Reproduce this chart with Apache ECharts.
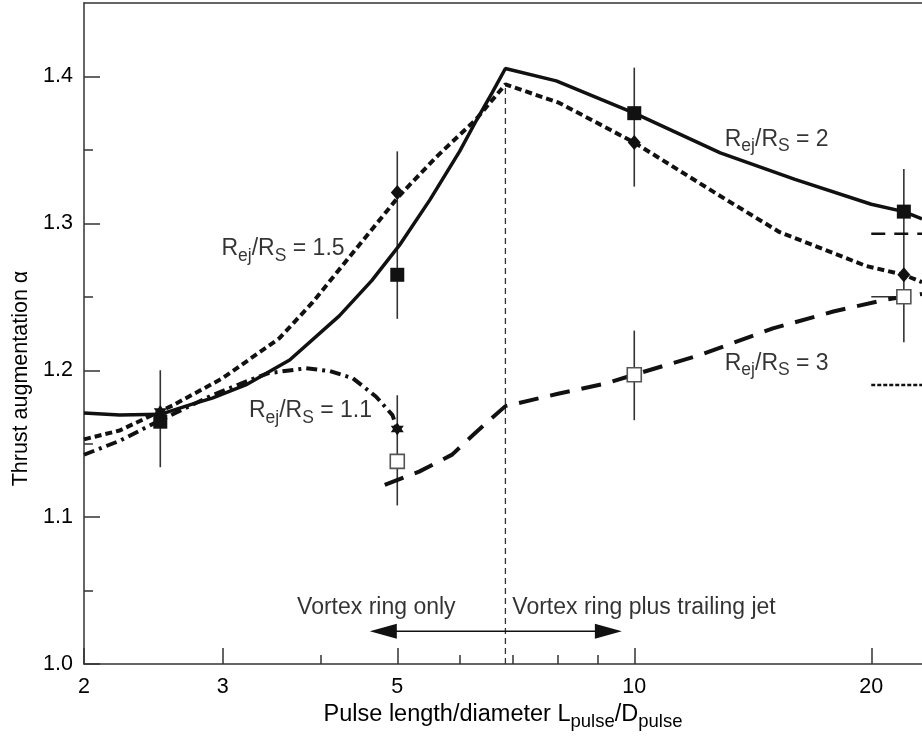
<!DOCTYPE html>
<html><head><meta charset="utf-8">
<script src="https://cdn.jsdelivr.net/npm/echarts@6/dist/echarts.min.js"></script>
<style>html,body{margin:0;padding:0;background:#fff}#c{width:922px;height:736px}</style>
</head><body><div id="c"></div><script>
// ---- tick values ----
const xMajorTicks = [2, 3, 5, 10, 20];
const xMinorTicks = [4, 6, 7, 8, 9];
const yMajorTicks = [1.0, 1.1, 1.2, 1.3, 1.4];
const yMinorTicks = [1.05, 1.15, 1.25, 1.35];
const xMin = 2, xMax = 23.2, yMin = 1.0, yMax = 1.45;

// ---- curves ----
const r2X = [2, 2.22, 2.5, 2.77, 2.91, 3.21, 3.65, 4.22, 4.64, 5.03, 5.5, 6.0, 6.3, 6.6, 6.86, 7.96, 10, 12.86, 16, 20, 22, 23.2];
const r2Y = [1.171, 1.1695, 1.170, 1.1776, 1.181, 1.190, 1.207, 1.237, 1.261, 1.285, 1.316, 1.349, 1.370, 1.389, 1.4054, 1.397, 1.375, 1.348, 1.330, 1.313, 1.308, 1.303];

const r15X = [2, 2.22, 2.59, 3.0, 3.54, 3.9, 4.3, 5.03, 5.6, 6.3, 6.86, 8.03, 10, 12.86, 15.3, 19.7, 22, 23.2];
const r15Y = [1.153, 1.159, 1.176, 1.1946, 1.2217, 1.246, 1.274, 1.3188, 1.345, 1.371, 1.3946, 1.382, 1.355, 1.3186, 1.294, 1.271, 1.265, 1.260];

const r11X = [2, 2.22, 2.5, 2.91, 3.2, 3.43, 3.83, 4.1, 4.39, 4.7, 4.93, 5.0];
const r11Y = [1.1425, 1.152, 1.166, 1.183, 1.192, 1.198, 1.2014, 1.1995, 1.1946, 1.182, 1.1695, 1.160];

const r3X = [4.82, 5.33, 5.87, 6.3, 6.86, 8.0, 9.2, 10, 12.1, 15.0, 17.9, 20.7, 23.2];
const r3Y = [1.122, 1.131, 1.1426, 1.158, 1.1756, 1.184, 1.191, 1.197, 1.2103, 1.2285, 1.240, 1.2477, 1.252];

// ---- measured points ----
const sq2X = [2.5, 5, 10, 22];          const sq2Y = [1.165, 1.265, 1.375, 1.308];
const dia15X = [5, 10, 22];             const dia15Y = [1.321, 1.355, 1.265];
const star11X = [2.5, 5];               const star11Y = [1.172, 1.160];
const open3X = [5, 10, 22];             const open3Y = [1.138, 1.197, 1.250];

// ---- error bars ----
const errX  = [2.5, 5, 5, 10, 10, 22];
const errLo = [1.134, 1.235, 1.108, 1.325, 1.166, 1.219];
const errHi = [1.200, 1.349, 1.183, 1.406, 1.227, 1.337];
const hErrY = [1.250]; const hErrLo = [20]; const hErrHi = [22];

// ---- other elements ----
const splitX = 6.86; const splitTopY = 1.394;
const arrowX = [4.8, 9.27]; const arrowY = 1.0224;
const stubDashX = [20, 23.2]; const stubDashY = 1.293;
const stubDotX = [20, 23.2];  const stubDotY = 1.19;

const annX = [13.03, 2.99, 3.24, 13.03];
const annY = [1.357, 1.2827, 1.1722, 1.2047];
const annV = ['2', '1.5', '1.1', '3'];
const vortexX = [3.73, 7.0]; const vortexY = 1.0386;
const vortexT = ['Vortex ring only', 'Vortex ring plus trailing jet'];

const L = Math.log10;
const pts = (xs, ys) => xs.map((x, i) => [L(x), ys[i]]);
const FONT = 'Liberation Sans, Arial, Helvetica, sans-serif';
const INK = '#111';
const TXT = '#000';

const hexStar = 'path://M0,-10 L2.89,-5 L8.66,-5 L5.77,0 L8.66,5 L2.89,5 L0,10 L-2.89,5 L-8.66,5 L-5.77,0 L-8.66,-5 L-2.89,-5 Z';

const rich = {
  r: {fontSize: 23, fontFamily: FONT, color: TXT, lineHeight: 32, verticalAlign: 'middle'},
  s: {fontSize: 17.5, fontFamily: FONT, color: TXT, lineHeight: 32, verticalAlign: 'bottom'}
};
const richTitle = {
  r: {fontSize: 23.5, fontFamily: FONT, color: TXT, lineHeight: 32, verticalAlign: 'middle'},
  s: {fontSize: 18.5, fontFamily: FONT, color: TXT, lineHeight: 32, verticalAlign: 'bottom'}
};

function lineSeries(xs, ys, type, width, z) {
  return {type: 'line', data: pts(xs, ys), showSymbol: false, symbol: 'none', silent: true,
    lineStyle: {color: INK, width: width, type: type, cap: 'butt'}, z: z || 2};
}

const xBase = {type: 'value', min: L(xMin), max: L(xMax), splitLine: {show: false}, gridIndex: 0};
const tickStyle = {color: '#333', width: 1.5};

const option = {
  animation: false,
  grid: {left: 84, right: 0, top: 3, bottom: 69},
  xAxis: [
    Object.assign({}, xBase, {
      position: 'bottom',
      axisLine: {show: true, lineStyle: tickStyle},
      axisTick: {show: true, inside: true, length: 16, customValues: xMajorTicks.map(L), lineStyle: tickStyle},
      axisLabel: {show: true, customValues: xMajorTicks.map(L), margin: 12, fontSize: 21.5, fontFamily: FONT, color: TXT,
        formatter: v => String(Math.round(Math.pow(10, v)))},
      name: '{r|Pulse length/diameter L}{s|pulse}{r|/D}{s|pulse}',
      nameLocation: 'middle', nameGap: 34,
      nameTextStyle: {rich: richTitle}
    }),
    Object.assign({}, xBase, {
      position: 'bottom',
      axisLine: {show: false},
      axisTick: {show: true, inside: true, length: 9, customValues: xMinorTicks.map(L), lineStyle: tickStyle},
      axisLabel: {show: false}
    }),
    Object.assign({}, xBase, {
      position: 'top',
      axisLine: {show: true, lineStyle: tickStyle},
      axisTick: {show: false}, axisLabel: {show: false}
    })
  ],
  yAxis: [
    {type: 'value', min: yMin, max: yMax, position: 'left', splitLine: {show: false},
      axisLine: {show: true, lineStyle: tickStyle},
      axisTick: {show: true, inside: true, length: 16, customValues: yMajorTicks, lineStyle: tickStyle},
      axisLabel: {show: true, customValues: yMajorTicks, margin: 11, fontSize: 21.5, fontFamily: FONT, color: TXT,
        formatter: v => v.toFixed(1)},
      name: 'Thrust augmentation α', nameLocation: 'middle', nameGap: 52,
      nameTextStyle: {fontSize: 21.5, fontFamily: FONT, color: TXT, padding: [0, 90, 0, 0]}
    },
    {type: 'value', min: yMin, max: yMax, position: 'left', splitLine: {show: false},
      axisLine: {show: false},
      axisTick: {show: true, inside: true, length: 9, customValues: yMinorTicks, lineStyle: tickStyle},
      axisLabel: {show: false}
    }
  ],
  series: [
    {type: 'line', data: [[L(splitX), yMin], [L(splitX), splitTopY]], showSymbol: false, symbol: 'none',
      lineStyle: {color: '#333', width: 1.3, type: [6, 4]}, z: 1},
    {type: 'custom', z: 3, data: errX.map((x, i) => [L(x), errLo[i], errHi[i]]),
      renderItem: (params, api) => {
        const p1 = api.coord([api.value(0), api.value(1)]);
        const p2 = api.coord([api.value(0), api.value(2)]);
        return {type: 'line', shape: {x1: p1[0], y1: p1[1], x2: p2[0], y2: p2[1]}, style: {stroke: '#333', lineWidth: 1.6}};
      }},
    {type: 'custom', z: 3, data: hErrY.map((y, i) => [L(hErrLo[i]), L(hErrHi[i]), y]),
      renderItem: (params, api) => {
        const p1 = api.coord([api.value(0), api.value(2)]);
        const p2 = api.coord([api.value(1), api.value(2)]);
        return {type: 'line', shape: {x1: p1[0], y1: p1[1], x2: p2[0], y2: p2[1]}, style: {stroke: '#333', lineWidth: 1.6}};
      }},
    lineSeries(r2X, r2Y, 'solid', 3.5, 4),
    lineSeries(r15X, r15Y, [7, 4], 4, 4),
    lineSeries(r11X, r11Y, [11, 5, 3, 5], 4, 4),
    lineSeries(r3X, r3Y, [20, 12], 4, 4),
    {type: 'line', data: stubDashX.map(x => [L(x), stubDashY]), showSymbol: false, symbol: 'none',
      lineStyle: {color: INK, width: 2.5, type: [14, 9]}, z: 4},
    {type: 'line', data: stubDotX.map(x => [L(x), stubDotY]), showSymbol: false, symbol: 'none',
      lineStyle: {color: INK, width: 2.5, type: [4, 2]}, z: 4},
    {type: 'line', data: [
        {value: [L(arrowX[0]), arrowY], symbolRotate: 90},
        {value: [L(arrowX[1]), arrowY], symbolRotate: -90}],
      symbol: 'triangle', symbolSize: [15, 27], showSymbol: true,
      itemStyle: {color: INK, opacity: 1}, lineStyle: {color: INK, width: 1.6}, z: 4},
    {type: 'scatter', data: pts(sq2X, sq2Y), symbol: 'rect', symbolSize: 14, itemStyle: {color: INK, opacity: 1}, z: 6},
    {type: 'scatter', data: pts(dia15X, dia15Y), symbol: 'diamond', symbolSize: [13, 15], itemStyle: {color: INK, opacity: 1}, z: 6},
    {type: 'scatter', data: pts(open3X, open3Y), symbol: 'rect', symbolSize: 14,
      itemStyle: {color: '#fff', borderColor: '#555', borderWidth: 1.6, opacity: 1}, z: 6},
    {type: 'scatter', data: pts(star11X, star11Y), symbol: hexStar, symbolSize: 13, itemStyle: {color: INK, opacity: 1}, z: 7},
    {type: 'scatter', symbolSize: 0, z: 8, silent: true,
      data: annX.map((x, i) => [L(x), annY[i]]),
      label: {show: true, position: 'right', distance: 0,
        formatter: p => '{r|R}{s|ej}{r|/R}{s|S}{r| = ' + annV[p.dataIndex] + '}', rich: rich}},
    {type: 'scatter', symbolSize: 0, z: 8, silent: true,
      data: vortexX.map((x, i) => [L(x), vortexY]),
      label: {show: true, position: 'right', distance: 0, fontSize: 23, fontFamily: FONT, color: TXT,
        formatter: p => vortexT[p.dataIndex]}}
  ]
};
echarts.init(document.getElementById('c')).setOption(option);
</script></body></html>
